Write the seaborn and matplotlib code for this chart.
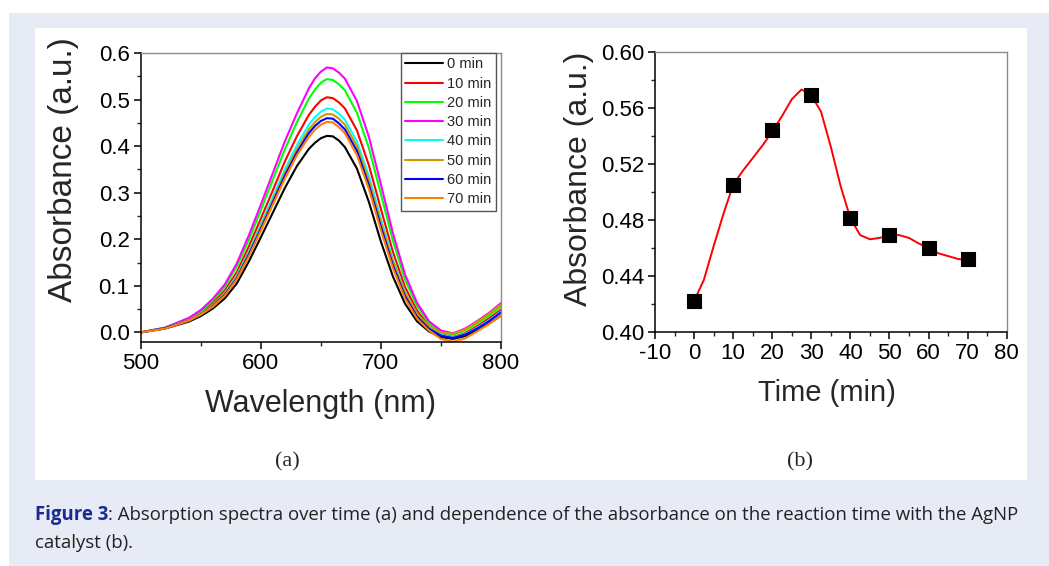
import matplotlib
matplotlib.use('Agg')
import matplotlib.pyplot as plt
import numpy as np
import pandas as pd
import seaborn as sns
from matplotlib.patches import Rectangle
from matplotlib.ticker import MultipleLocator, FormatStrFormatter

# ----------------------------------------------------------------------------- 
#         Data
# -----------------------------------------------------------------------------
wavelength = [500, 520, 540, 550, 560, 570, 580, 590, 600, 610, 620, 630, 640,
              645, 650, 655, 660, 665, 670, 680, 690, 700, 710, 720, 730, 740,
              750, 760, 770, 780, 790, 800]

abs_0 = [0.000, 0.008, 0.023, 0.035, 0.051, 0.073, 0.105, 0.152, 0.204, 0.257,
         0.310, 0.357, 0.394, 0.407, 0.417, 0.422, 0.421, 0.412, 0.398, 0.352,
         0.280, 0.195, 0.120, 0.062, 0.024, 0.002, -0.010, -0.014, -0.008,
         0.004, 0.019, 0.036]
abs_10 = [0.000, 0.009, 0.028, 0.042, 0.063, 0.090, 0.129, 0.184, 0.244, 0.305,
          0.367, 0.421, 0.467, 0.484, 0.498, 0.505, 0.503, 0.494, 0.481, 0.434,
          0.359, 0.265, 0.173, 0.098, 0.047, 0.014, -0.004, -0.010, -0.002,
          0.013, 0.030, 0.049]
abs_20 = [0.000, 0.010, 0.030, 0.046, 0.068, 0.098, 0.141, 0.198, 0.262, 0.328,
          0.393, 0.451, 0.502, 0.521, 0.536, 0.544, 0.542, 0.533, 0.520, 0.472,
          0.396, 0.297, 0.197, 0.114, 0.057, 0.020, 0.001, -0.005, 0.004,
          0.019, 0.036, 0.056]
abs_30 = [0.000, 0.010, 0.031, 0.048, 0.072, 0.103, 0.148, 0.208, 0.274, 0.342,
          0.410, 0.470, 0.524, 0.545, 0.560, 0.569, 0.567, 0.558, 0.545, 0.497,
          0.420, 0.318, 0.213, 0.125, 0.064, 0.024, 0.004, -0.002, 0.008,
          0.024, 0.042, 0.063]
abs_40 = [0.000, 0.009, 0.026, 0.040, 0.059, 0.085, 0.122, 0.174, 0.232, 0.291,
          0.350, 0.402, 0.446, 0.462, 0.474, 0.481, 0.479, 0.470, 0.457, 0.410,
          0.336, 0.244, 0.157, 0.087, 0.040, 0.011, -0.005, -0.011, -0.004,
          0.010, 0.026, 0.045]
abs_50 = [0.000, 0.009, 0.026, 0.039, 0.058, 0.083, 0.119, 0.170, 0.227, 0.284,
          0.342, 0.393, 0.436, 0.451, 0.463, 0.469, 0.468, 0.459, 0.446, 0.400,
          0.326, 0.236, 0.152, 0.085, 0.040, 0.013, 0.000, -0.003, 0.006,
          0.022, 0.040, 0.060]
abs_60 = [0.000, 0.009, 0.025, 0.038, 0.056, 0.081, 0.116, 0.167, 0.222, 0.279,
          0.336, 0.386, 0.428, 0.443, 0.454, 0.460, 0.459, 0.449, 0.436, 0.390,
          0.316, 0.227, 0.144, 0.078, 0.034, 0.008, -0.007, -0.012, -0.005,
          0.008, 0.024, 0.043]
abs_70 = [0.000, 0.008, 0.025, 0.038, 0.055, 0.079, 0.114, 0.163, 0.218, 0.274,
          0.330, 0.380, 0.420, 0.435, 0.446, 0.452, 0.451, 0.441, 0.428, 0.381,
          0.308, 0.219, 0.138, 0.073, 0.030, 0.004, -0.014, -0.020, -0.013,
          0.002, 0.018, 0.036]

labels = ['0 min', '10 min', '20 min', '30 min',
          '40 min', '50 min', '60 min', '70 min']
colors = ['#000000', '#ff0000', '#00ff00', '#ff00ff',
          '#00ffff', '#cc9900', '#0000ff', '#ff8000']
spectra = [abs_0, abs_10, abs_20, abs_30, abs_40, abs_50, abs_60, abs_70]

# peak absorbance vs time
time_min = [0, 10, 20, 30, 40, 50, 60, 70]
peak_abs = [0.422, 0.505, 0.544, 0.569, 0.481, 0.469, 0.460, 0.452]

# smooth guide line as drawn in the figure
curve_t = [0, 2.5, 5, 7.5, 10, 12.5, 15, 17.5, 20, 22.5, 25, 27.5, 30, 32.5,
           35, 37.5, 40, 42.5, 45, 47.5, 50, 52.5, 55, 57.5, 60, 62.5, 65,
           67.5, 70]
curve_a = [0.422, 0.437, 0.461, 0.484, 0.505, 0.515, 0.524, 0.533, 0.543,
           0.554, 0.566, 0.573, 0.569, 0.557, 0.532, 0.504, 0.481, 0.469,
           0.466, 0.467, 0.469, 0.469, 0.467, 0.463, 0.460, 0.456, 0.454,
           0.452, 0.451]

caption_head = 'Figure 3'
caption_1 = (': Absorption spectra over time (a) and dependence of the absorbance '
             'on the reaction time with the AgNP')
caption_2 = 'catalyst (b).'

# ----------------------------------------------------------------------------- 
#         Figure set-up (pixel helpers)
# -----------------------------------------------------------------------------
W, H = 1049, 566


def fx(px):
    return px / W


def fy(py):
    return 1 - py / H


sns.set_style('ticks')
plt.rcParams['font.family'] = ['Liberation Sans', 'DejaVu Sans']
plt.rcParams['axes.unicode_minus'] = False

fig = plt.figure(figsize=(W / 100, H / 100), dpi=100)
fig.patch.set_facecolor('white')
fig.add_artist(Rectangle((fx(9), 0), 1 - fx(9), fy(13),
                         transform=fig.transFigure, facecolor='#e7ebf5',
                         edgecolor='none', zorder=-3))
fig.add_artist(Rectangle((fx(35), fy(480)), fx(1027) - fx(35),
                         fy(28) - fy(480), transform=fig.transFigure,
                         facecolor='white', edgecolor='none', zorder=-2))

ax1 = fig.add_axes([fx(140.7), fy(341.7), fx(501) - fx(140.7),
                    fy(53) - fy(341.7)])
ax2 = fig.add_axes([fx(655), fy(331.7), fx(1006.7) - fx(655),
                    fy(51.7) - fy(331.7)])

# ----------------------------------------------------------------------------- 
#         (a) spectra
# -----------------------------------------------------------------------------
df = pd.DataFrame({
    'Wavelength': np.tile(wavelength, len(labels)),
    'Absorbance': np.concatenate(spectra),
    'Time': np.repeat(labels, len(wavelength)),
})
sns.lineplot(data=df, x='Wavelength', y='Absorbance', hue='Time',
             hue_order=labels, palette=dict(zip(labels, colors)),
             lw=1.5, ax=ax1)

ax1.legend(loc='upper right', bbox_to_anchor=(0.986, 1.0), borderaxespad=0,
           frameon=True, fancybox=False, edgecolor='#555555', framealpha=1,
           fontsize=10.5, handlelength=2.6, labelspacing=0.36,
           handletextpad=0.3, borderpad=0.3)
ax1.get_legend().get_frame().set_linewidth(1.0)

ax1.set(xlim=(500, 800), ylim=(-0.02, 0.6))
ax1.xaxis.set_major_locator(MultipleLocator(100))
ax1.xaxis.set_minor_locator(MultipleLocator(50))
ax1.yaxis.set_major_locator(MultipleLocator(0.1))
ax1.yaxis.set_minor_locator(MultipleLocator(0.05))
ax1.yaxis.set_major_formatter(FormatStrFormatter('%.1f'))
ax1.set_xlabel('Wavelength (nm)', fontsize=22)
ax1.set_ylabel('Absorbance (a.u.)', fontsize=24)
ax1.xaxis.set_label_coords(0.5, -0.165)
ax1.yaxis.set_label_coords(-0.17, 0.595)

# ----------------------------------------------------------------------------- 
#         (b) peak absorbance vs time
# -----------------------------------------------------------------------------
sns.lineplot(x=curve_t, y=curve_a, color='#ff0000', lw=1.4, ax=ax2)
sns.scatterplot(x=time_min, y=peak_abs, marker='s', s=95, color='black',
                edgecolor='black', zorder=3, ax=ax2)

ax2.set(xlim=(-10, 80), ylim=(0.40, 0.60))
ax2.xaxis.set_major_locator(MultipleLocator(10))
ax2.xaxis.set_minor_locator(MultipleLocator(5))
ax2.yaxis.set_major_locator(MultipleLocator(0.04))
ax2.yaxis.set_minor_locator(MultipleLocator(0.02))
ax2.yaxis.set_major_formatter(FormatStrFormatter('%.2f'))
ax2.set_xlabel('Time (min)', fontsize=21)
ax2.set_ylabel('Absorbance (a.u.)', fontsize=23)
ax2.xaxis.set_label_coords(0.489, -0.17)
ax2.yaxis.set_label_coords(-0.173, 0.545)

# Origin-like axes: dark left/bottom, grey top/right, outward ticks
for ax in (ax1, ax2):
    ax.set_facecolor('none')
    for side in ('left', 'bottom'):
        ax.spines[side].set_color('black')
        ax.spines[side].set_linewidth(1.1)
    for side in ('top', 'right'):
        ax.spines[side].set_color('#8a8a8a')
        ax.spines[side].set_linewidth(1.0)
    ax.tick_params(which='major', direction='out', length=5, width=1.1,
                   labelsize=16, pad=3, colors='black')
    ax.tick_params(which='minor', direction='out', length=3, width=1.0)

# ----------------------------------------------------------------------------- 
#         Panel tags and caption
# -----------------------------------------------------------------------------
fig.text(fx(287), fy(462), '(a)', family='Liberation Serif', fontsize=16,
         ha='center', va='center')
fig.text(fx(800), fy(462), '(b)', family='Liberation Serif', fontsize=16,
         ha='center', va='center')

cap_font = dict(family='Open Sans', fontsize=13.4, va='center')
head = fig.text(fx(35), fy(515), caption_head, color='#1b2a8f',
                fontweight='bold', **cap_font)
fig.canvas.draw()
x_end = fig.transFigure.inverted().transform(
    (head.get_window_extent().x1, 0))[0]
fig.text(x_end, fy(515), caption_1, color='#222222', **cap_font)
fig.text(fx(35), fy(543), caption_2, color='#222222', **cap_font)

fig.savefig('out.png', dpi=100)
